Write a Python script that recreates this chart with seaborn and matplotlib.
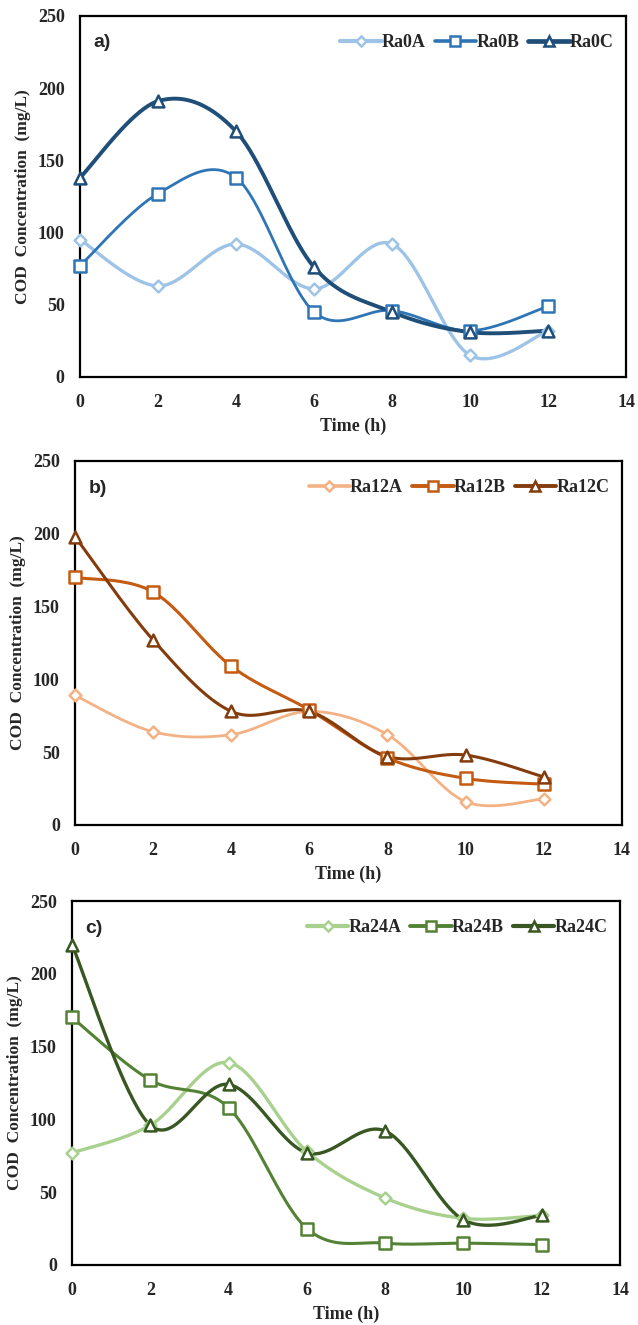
import numpy as np
import pandas as pd
import matplotlib
matplotlib.use("Agg")
import matplotlib.pyplot as plt
from matplotlib.lines import Line2D
import seaborn as sns

# Sampling times (h)
time_h = [0, 2, 4, 6, 8, 10, 12]

# COD concentration (mg/L), panel a
ra0a = [95, 63, 92, 61, 92, 15, 32]
ra0b = [77, 127, 138, 45, 46, 32, 49]
ra0c = [138, 191, 170, 76, 45, 31, 32]

# panel b
ra12a = [89, 64, 62, 78, 62, 16, 18]
ra12b = [170, 160, 109, 79, 46, 32, 28]
ra12c = [198, 127, 78, 78, 47, 48, 33]

# panel c
ra24a = [77, 96, 139, 78, 46, 32, 34]
ra24b = [170, 127, 108, 25, 15, 15, 14]
ra24c = [220, 96, 124, 77, 92, 31, 34]

x_ticks = [0, 2, 4, 6, 8, 10, 12, 14]
y_ticks = [0, 50, 100, 150, 200, 250]

sns.set_style("white")
plt.rcParams["font.family"] = ["Liberation Serif", "DejaVu Serif"]

SERIF = "Liberation Serif"


def smooth_curve(xs, ys, n=40):
    """Bezier smoothing through every point (spreadsheet-style smoothed line)."""
    pts = np.column_stack([xs, ys]).astype(float)
    ext = np.vstack([pts[0], pts, pts[-1]])
    out = []
    for i in range(len(pts) - 1):
        p0, p1, p2, p3 = ext[i], ext[i + 1], ext[i + 2], ext[i + 3]
        c1 = p1 + (p2 - p0) / 6.0
        c2 = p2 - (p3 - p1) / 6.0
        t = np.linspace(0, 1, n, endpoint=(i == len(pts) - 2))[:, None]
        seg = ((1 - t) ** 3) * p1 + 3 * ((1 - t) ** 2) * t * c1 + 3 * (1 - t) * t ** 2 * c2 + t ** 3 * p2
        out.append(seg)
    arr = np.vstack(out)
    return pd.DataFrame({"t": arr[:, 0], "cod": arr[:, 1]})


panels = [
    dict(rect=[0.1254, 0.7155, 0.856, 0.2725], tag="a)",
         series=[("Ra0A", ra0a, "#9DC3E6", "D", 2.4, 6.0),
                 ("Ra0B", ra0b, "#2E75B6", "s", 2.0, 8.5),
                 ("Ra0C", ra0c, "#1F4E79", "^", 2.8, 8.5)]),
    dict(rect=[0.1176, 0.3774, 0.857, 0.2747], tag="b)",
         series=[("Ra12A", ra12a, "#F4B183", "D", 2.0, 6.0),
                 ("Ra12B", ra12b, "#C55A11", "s", 2.2, 8.5),
                 ("Ra12C", ra12c, "#843C0C", "^", 2.2, 8.5)]),
    dict(rect=[0.1129, 0.0453, 0.859, 0.2747], tag="c)",
         series=[("Ra24A", ra24a, "#A9D18E", "D", 2.4, 6.0),
                 ("Ra24B", ra24b, "#548235", "s", 2.2, 8.5),
                 ("Ra24C", ra24c, "#385723", "^", 2.4, 8.5)]),
]

fig = plt.figure(figsize=(6.38, 13.25), dpi=100)

for p in panels:
    ax = fig.add_axes(p["rect"])
    handles = []
    for name, vals, col, mk, lw, ms in p["series"]:
        curve = smooth_curve(time_h, vals)
        sns.lineplot(data=curve, x="t", y="cod", sort=False, estimator=None,
                     color=col, linewidth=lw, ax=ax, legend=False)
        pts = pd.DataFrame({"t": time_h, "cod": vals})
        sns.scatterplot(data=pts, x="t", y="cod", marker=mk, s=ms ** 2,
                        facecolor="white", edgecolor=col, linewidth=1.8,
                        ax=ax, legend=False, zorder=5, clip_on=False)
        handles.append(Line2D([], [], color=col, lw=lw + 0.6, marker=mk,
                              markersize=ms - 1, markerfacecolor="white",
                              markeredgecolor=col, markeredgewidth=1.8,
                              label=name))
    ax.set_xlim(0, 14)
    ax.set_ylim(0, 250)
    ax.set_xticks(x_ticks)
    ax.set_yticks(y_ticks)
    ax.tick_params(axis="both", length=0, labelsize=13)
    ax.tick_params(axis="x", pad=12)
    ax.tick_params(axis="y", pad=11)
    for lab in ax.get_xticklabels() + ax.get_yticklabels():
        lab.set_fontweight("bold")
        lab.set_family(SERIF)
    for sp in ax.spines.values():
        sp.set_color("black")
        sp.set_linewidth(1.6)
    ax.set_xlabel("Time (h)", fontsize=13, fontweight="bold", family=SERIF, labelpad=5)
    ax.set_ylabel("COD  Concentration  (mg/L)", fontsize=12.5, fontweight="bold",
                  family=SERIF, labelpad=5)
    ax.text(0.025, 0.925, p["tag"], transform=ax.transAxes, fontsize=14,
            fontweight="bold", family="Liberation Sans", ha="left", va="center")
    ax.legend(handles=handles, loc="upper right", bbox_to_anchor=(1.0, 0.985),
              ncol=3, frameon=False, handlelength=2.3, handletextpad=0.0,
              columnspacing=0.5, borderaxespad=0.3,
              prop={"family": SERIF, "weight": "bold", "size": 13})

fig.savefig("out.png", dpi=100, facecolor="white")
